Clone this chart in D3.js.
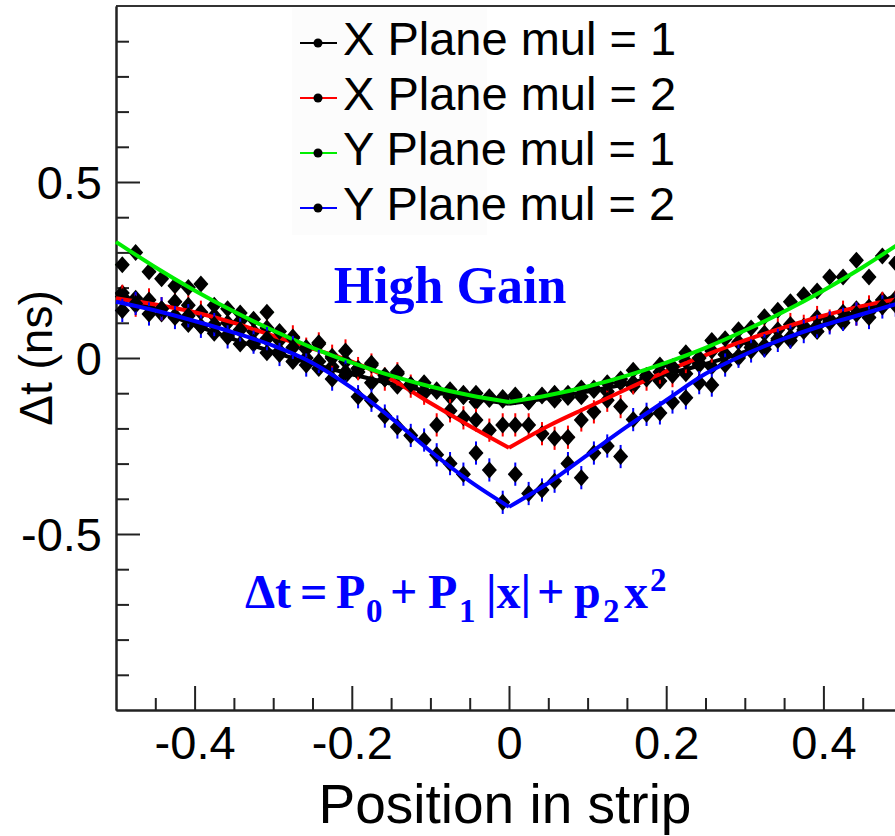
<!DOCTYPE html>
<html>
<head>
<meta charset="utf-8">
<style>
    body { margin: 0; background: white; }
    svg { display: block; }
    .tick text { font-family: 'Liberation Sans', Arial, sans-serif; font-size: 47px; fill: #000; }
    .tick line { stroke: #222; stroke-width: 2; }
    .domain { stroke: #222; stroke-width: 2; }
    .label { font-family: 'Liberation Sans', Arial, sans-serif; fill: #000; }
    .note { font-family: 'Liberation Serif', 'Times New Roman', serif; font-weight: bold; fill: #0000ff; white-space: pre; }
</style>
</head>
<body>
<svg width="895" height="836"></svg>

<script src="https://d3js.org/d3.v7.min.js"></script>
<script>
    // bin centres shared by all four graphs (60 bins over the strip)
    const xBins = [-0.492, -0.475, -0.458, -0.442, -0.425, -0.408, -0.392, -0.375, -0.358, -0.342,
        -0.325, -0.308, -0.292, -0.275, -0.258, -0.242, -0.225, -0.208, -0.192, -0.175,
        -0.158, -0.142, -0.125, -0.108, -0.092, -0.075, -0.058, -0.042, -0.025, -0.008,
        0.008, 0.025, 0.042, 0.058, 0.075, 0.092, 0.108, 0.125, 0.142, 0.158,
        0.175, 0.192, 0.208, 0.225, 0.242, 0.258, 0.275, 0.292, 0.308, 0.325,
        0.342, 0.358, 0.375, 0.392, 0.408, 0.425, 0.442, 0.458, 0.475, 0.492]
    const binHalf = 0.0083

    // measured delta t per bin
    const ptsXmul1 = [0.185, 0.170, 0.150, 0.125, 0.120, 0.095, 0.090, 0.070, 0.065, 0.040,
        0.040, 0.015, 0.020, -0.010, 0.000, -0.030, -0.025, -0.050, -0.040, -0.070,
        -0.060, -0.080, -0.075, -0.095, -0.090, -0.110, -0.100, -0.125, -0.110, -0.120,
        -0.105, -0.125, -0.105, -0.120, -0.100, -0.110, -0.085, -0.095, -0.070, -0.080,
        -0.055, -0.065, -0.035, -0.045, -0.015, -0.025, 0.010, 0.000, 0.030, 0.025,
        0.055, 0.050, 0.080, 0.075, 0.110, 0.100, 0.140, 0.130, 0.165, 0.170]
    const ptsXmul2 = [0.175, 0.150, 0.165, 0.140, 0.160, 0.150, 0.130, 0.120, 0.100, 0.105,
        0.075, 0.085, 0.050, 0.060, 0.025, 0.040, 0.005, 0.020, -0.030, -0.020,
        -0.060, -0.045, -0.080, -0.100, -0.190, -0.150, -0.170, -0.176, -0.205, -0.190,
        -0.190, -0.190, -0.215, -0.228, -0.225, -0.176, -0.153, -0.120, -0.138, -0.070,
        -0.060, -0.040, -0.050, -0.010, -0.020, 0.020, 0.010, 0.045, 0.040, 0.070,
        0.080, 0.095, 0.090, 0.115, 0.105, 0.130, 0.125, 0.145, 0.155, 0.160]
    const ptsYmul1 = [0.265, 0.300, 0.245, 0.225, 0.205, 0.200, 0.210, 0.150, 0.140, 0.128,
        0.110, 0.130, 0.075, 0.057, 0.030, 0.043, 0.000, -0.010, -0.030, -0.015,
        -0.050, -0.040, -0.075, -0.070, -0.095, -0.090, -0.110, -0.100, -0.118, -0.112,
        -0.110, -0.125, -0.108, -0.100, -0.112, -0.085, -0.092, -0.070, -0.060, -0.035,
        -0.050, -0.020, -0.025, 0.015, 0.000, 0.050, 0.055, 0.080, 0.085, 0.117,
        0.136, 0.160, 0.180, 0.190, 0.230, 0.230, 0.278, 0.230, 0.290, 0.270]
    const ptsYmul2 = [0.135, 0.155, 0.125, 0.140, 0.115, 0.120, 0.090, 0.095, 0.060, 0.080,
        0.045, 0.055, 0.010, 0.030, -0.020, -0.010, -0.060, -0.040, -0.110, -0.120,
        -0.165, -0.196, -0.220, -0.233, -0.275, -0.300, -0.330, -0.270, -0.318, -0.410,
        -0.330, -0.385, -0.375, -0.350, -0.300, -0.340, -0.270, -0.250, -0.280, -0.175,
        -0.160, -0.156, -0.125, -0.113, -0.070, -0.077, -0.020, 0.005, 0.020, 0.035,
        0.050, 0.060, 0.075, 0.090, 0.100, 0.110, 0.125, 0.115, 0.145, 0.150]
    const yErr = [0.012, 0.033, 0.02, 0.033]

    // fitted curves
    const fitX = [-0.5, -0.45, -0.4, -0.35, -0.3, -0.25, -0.2, -0.15, -0.1, -0.05, 0,
        0.05, 0.1, 0.15, 0.2, 0.25, 0.3, 0.35, 0.4, 0.45, 0.5]
    const fitXmul1 = [0.185, 0.138, 0.094, 0.053, 0.017, -0.017, -0.046, -0.073, -0.095, -0.114, -0.13,
        -0.114, -0.095, -0.073, -0.046, -0.017, 0.017, 0.053, 0.094, 0.138, 0.185]
    const fitXmul2 = [0.17, 0.152, 0.13, 0.10, 0.063, 0.027, -0.01, -0.06, -0.128, -0.193, -0.255,
        -0.193, -0.14, -0.088, -0.038, 0.008, 0.05, 0.087, 0.12, 0.148, 0.17]
    const fitYmul1 = [0.33, 0.258, 0.192, 0.132, 0.078, 0.029, -0.013, -0.05, -0.081, -0.106, -0.125,
        -0.106, -0.081, -0.05, -0.013, 0.029, 0.078, 0.132, 0.192, 0.258, 0.33]
    const fitYmul2 = [0.16, 0.135, 0.105, 0.072, 0.035, -0.014, -0.085, -0.17, -0.265, -0.35, -0.423,
        -0.355, -0.275, -0.195, -0.12, -0.045, 0.01, 0.055, 0.093, 0.125, 0.158]

    const seriesNames = ["X Plane mul = 1", "X Plane mul = 2", "Y Plane mul = 1", "Y Plane mul = 2"]
    const seriesColors = ["#000000", "#ff0000", "#00ee00", "#0000ff"]

    const xTicksMajor = [-0.4, -0.2, 0, 0.2, 0.4]
    const xTicksMinor = [-0.45, -0.35, -0.3, -0.25, -0.15, -0.1, -0.05, 0.05, 0.1, 0.15, 0.25, 0.3, 0.35, 0.45]
    const yTicksMajor = [-0.5, 0, 0.5]
    const yTicksMinor = [-0.9, -0.8, -0.7, -0.6, -0.4, -0.3, -0.2, -0.1, 0.1, 0.2, 0.3, 0.4, 0.6, 0.7, 0.8, 0.9]

    let svg = d3.select("svg")
    let margin = { top: 6, left: 116, bottom: 710, right: 902 }

    let x = d3.scaleLinear().domain([-0.5, 0.5]).range([margin.left, margin.right])
    let y = d3.scaleLinear().domain([-1, 1]).range([margin.bottom, margin.top])

    // faint legend backdrop
    svg.append("rect")
        .attr("x", 292).attr("y", 8).attr("width", 195).attr("height", 227)
        .attr("fill", "#fcfcfc")

    // frame top
    svg.append("line")
        .attr("x1", margin.left).attr("x2", 895)
        .attr("y1", margin.top).attr("y2", margin.top)
        .attr("stroke", "#333").attr("stroke-width", 2)

    let fmt = d => d === 0 ? "0" : String(d)

    // y axis
    svg.append("g")
        .attr("transform", `translate(${margin.left},0)`)
        .call(d3.axisLeft(y).tickValues(yTicksMinor).tickSize(-13).tickSizeOuter(0).tickFormat(""))
    svg.append("g")
        .attr("transform", `translate(${margin.left},0)`)
        .call(d3.axisLeft(y).tickValues(yTicksMajor).tickSize(-24).tickSizeOuter(0).tickPadding(14).tickFormat(fmt))
        .call(g => g.selectAll("text").attr("dy", "0.36em"))

    // x axis
    svg.append("g")
        .attr("transform", `translate(0,${margin.bottom})`)
        .call(d3.axisBottom(x).tickValues(xTicksMinor).tickSize(-12).tickSizeOuter(0).tickFormat(""))
    svg.append("g")
        .attr("transform", `translate(0,${margin.bottom})`)
        .call(d3.axisBottom(x).tickValues(xTicksMajor).tickSize(-24).tickSizeOuter(0).tickPadding(16).tickFormat(fmt))

    // axis titles
    svg.append("text")
        .attr("class", "label")
        .attr("x", 505).attr("y", 823)
        .attr("text-anchor", "middle")
        .attr("font-size", 55)
        .text("Position in strip")

    svg.append("text")
        .attr("class", "label")
        .attr("transform", "translate(52,358) rotate(-90)")
        .attr("text-anchor", "middle")
        .attr("font-size", 46)
        .text("\u0394t (ns)")

    // data + fits, drawn in the order of the legend
    let allPts = [ptsXmul1, ptsXmul2, ptsYmul1, ptsYmul2]
    let allFits = [fitXmul1, fitXmul2, fitYmul1, fitYmul2]

    let diamond = "M0,-8.5L7.5,0L0,8.5L-7.5,0Z"

    let line = d3.line()
        .x(d => x(d[0]))
        .y(d => y(d[1]))
        .curve(d3.curveMonotoneX)

    let plot = svg.append("g")

    allPts.forEach((vals, i) => {
        let pts = xBins.map((xv, j) => ({ x: xv, v: vals[j] }))
        let g = plot.append("g")

        // error bars
        g.selectAll(".eh")
            .data(pts)
            .join("line")
            .attr("x1", d => x(d.x - binHalf)).attr("x2", d => x(d.x + binHalf))
            .attr("y1", d => y(d.v)).attr("y2", d => y(d.v))
            .attr("stroke", seriesColors[i]).attr("stroke-width", 2)
        g.selectAll(".ev")
            .data(pts)
            .join("line")
            .attr("x1", d => x(d.x)).attr("x2", d => x(d.x))
            .attr("y1", d => y(d.v - yErr[i])).attr("y2", d => y(d.v + yErr[i]))
            .attr("stroke", seriesColors[i]).attr("stroke-width", 2)

        g.selectAll(".pt")
            .data(pts)
            .join("path")
            .attr("d", diamond)
            .attr("transform", d => `translate(${x(d.x)},${y(d.v)})`)
            .attr("fill", "#000")

        // fit, split at x = 0 where the |x| term kinks
        let fit = fitX.map((xv, j) => [xv, allFits[i][j]])
        let left = fit.filter(d => d[0] <= 0)
        let right = fit.filter(d => d[0] >= 0)
        ;[left, right].forEach(part => {
            g.append("path")
                .attr("d", line(part))
                .attr("fill", "none")
                .attr("stroke", seriesColors[i])
                .attr("stroke-width", 4)
        })
    })

    // legend
    let legend = svg.append("g")
    seriesNames.forEach((name, i) => {
        let base = 55 + i * 55
        legend.append("line")
            .attr("x1", 300).attr("x2", 337)
            .attr("y1", base - 12).attr("y2", base - 12)
            .attr("stroke", seriesColors[i]).attr("stroke-width", 2)
        legend.append("circle")
            .attr("cx", 318).attr("cy", base - 12).attr("r", 4.5)
            .attr("fill", "#000")
        legend.append("text")
            .attr("class", "label")
            .attr("x", 343).attr("y", base)
            .attr("font-size", 47)
            .text(name)
    })

    // annotations
    svg.append("text")
        .attr("class", "note")
        .attr("x", 450).attr("y", 303)
        .attr("text-anchor", "middle")
        .attr("font-size", 52)
        .text("High Gain")

    let formula = svg.append("text")
        .attr("class", "note")
        .attr("y", 608)
        .attr("font-size", 48)
    // pieces of the formula with their left edges and baseline offsets
    let parts = [
        { t: "\u0394t", x: 245, dy: 0, fs: 48 },
        { t: "=", x: 300, dy: 0, fs: 48 },
        { t: "P", x: 336, dy: 0, fs: 48 },
        { t: "0", x: 366, dy: 14, fs: 33 },
        { t: "+", x: 390, dy: -14, fs: 48 },
        { t: "P", x: 428, dy: 0, fs: 48 },
        { t: "1", x: 459, dy: 14, fs: 33 },
        { t: "|x|", x: 486, dy: -14, fs: 48 },
        { t: "+", x: 537, dy: 0, fs: 48 },
        { t: "p", x: 574, dy: 0, fs: 48 },
        { t: "2", x: 603, dy: 14, fs: 33 },
        { t: "x", x: 624, dy: -14, fs: 48 },
        { t: "2", x: 650, dy: -17, fs: 33 }
    ]
    parts.forEach(p => {
        formula.append("tspan")
            .attr("x", p.x)
            .attr("dy", p.dy)
            .attr("font-size", p.fs)
            .text(p.t)
    })
</script>
</body>
</html>
